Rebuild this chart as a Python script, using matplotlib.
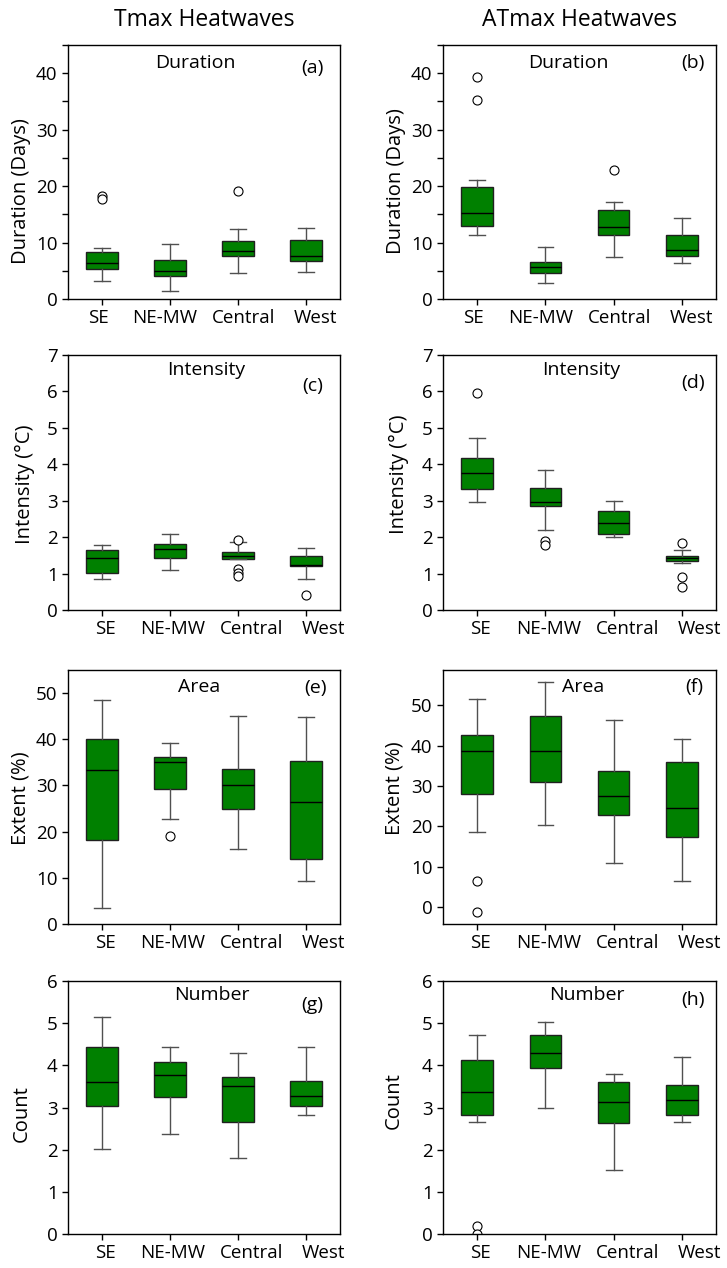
import matplotlib
matplotlib.use("Agg")
import matplotlib.pyplot as plt
import matplotlib.transforms as mtransforms
from matplotlib.ticker import MultipleLocator

plt.rcParams['font.family'] = ['Open Sans', 'DejaVu Sans']

regions = ["SE", "NE-MW", "Central", "West"]

# box summaries per region: [whisker low, q1, median, q3, whisker high]
tmax_duration = [[3.2, 5.4, 6.3, 8.3, 9.1],
                 [1.4, 4.1, 4.9, 6.9, 9.8],
                 [4.6, 7.7, 8.5, 10.3, 12.4],
                 [4.7, 6.7, 7.6, 10.4, 12.5]]
tmax_duration_out = [[18.3, 17.7], [], [19.1], []]

atmax_duration = [[11.4, 13.0, 15.3, 19.8, 21.1],
                  [2.8, 4.6, 5.7, 6.5, 9.3],
                  [7.4, 11.3, 12.7, 15.7, 17.1],
                  [6.3, 7.6, 8.7, 11.4, 14.3]]
atmax_duration_out = [[39.3, 35.3], [], [22.8], []]

tmax_intensity = [[0.85, 1.02, 1.42, 1.65, 1.79],
                  [1.11, 1.44, 1.67, 1.82, 2.10],
                  [1.41, 1.41, 1.47, 1.59, 1.86],
                  [0.85, 1.22, 1.24, 1.47, 1.70]]
tmax_intensity_out = [[], [], [1.92, 1.13, 1.03, 0.93], [0.41]]

atmax_intensity = [[2.96, 3.31, 3.77, 4.16, 4.71],
                   [2.21, 2.85, 2.97, 3.36, 3.84],
                   [2.01, 2.10, 2.38, 2.72, 2.99],
                   [1.30, 1.34, 1.42, 1.49, 1.66]]
atmax_intensity_out = [[5.95], [1.89, 1.78], [], [1.83, 0.91, 0.62]]

tmax_area = [[3.5, 18.2, 33.3, 40.0, 48.6],
             [22.7, 29.3, 35.1, 36.1, 39.2],
             [16.2, 25.0, 30.2, 33.5, 45.0],
             [9.4, 14.1, 26.4, 35.3, 44.9]]
tmax_area_out = [[], [19.0], [], []]

atmax_area = [[18.5, 28.1, 38.7, 42.5, 51.6],
              [20.2, 31.0, 38.7, 47.3, 55.8],
              [10.9, 22.9, 27.6, 33.7, 46.2],
              [6.5, 17.4, 24.5, 35.8, 41.6]]
atmax_area_out = [[6.4, -1.3], [], [], []]

tmax_number = [[2.02, 3.04, 3.61, 4.43, 5.14],
               [2.37, 3.25, 3.76, 4.07, 4.44],
               [1.81, 2.65, 3.50, 3.73, 4.30],
               [2.82, 3.03, 3.27, 3.62, 4.43]]
tmax_number_out = [[], [], [], []]

atmax_number = [[2.65, 2.83, 3.38, 4.13, 4.72],
                [2.99, 3.94, 4.30, 4.73, 5.02],
                [1.52, 2.64, 3.12, 3.61, 3.80],
                [2.65, 2.83, 3.19, 3.53, 4.20]]
atmax_number_out = [[0.19, 0.01], [], [], []]


def box_stats(summary, outliers):
    stats = []
    for (lo, q1, med, q3, hi), out in zip(summary, outliers):
        stats.append(dict(whislo=lo, q1=q1, med=med, q3=q3, whishi=hi, fliers=out))
    return stats


fig = plt.figure(figsize=(7.27, 12.68), dpi=100)

col_left = [0.0935, 0.6094]
col_width = [0.374, 0.3755]
row_bottom = [0.7642, 0.5189, 0.2713, 0.0268]
row_height = [0.2003, 0.2011, 0.2003, 0.1995]

# (summary, outliers, row, col, title, letter, ylabel, ylim, ystep, minor, title xy, letter xy, ylabel xy)
panels = [
    (tmax_duration, tmax_duration_out, 0, 0, "Duration", "(a)", "Duration (Days)",
     (0, 45), 10, 5, (0.467, 0.93), (0.90, 0.91), (-0.173, 0.425)),
    (atmax_duration, atmax_duration_out, 0, 1, "Duration", "(b)", "Duration (Days)",
     (0, 45), 10, 5, (0.46, 0.93), (0.916, 0.93), (-0.172, 0.465)),
    (tmax_intensity, tmax_intensity_out, 1, 0, "Intensity", "(c)", "Intensity (\u00b0C)",
     (0, 7), 1, None, (0.51, 0.94), (0.90, 0.88), (-0.158, 0.494)),
    (atmax_intensity, atmax_intensity_out, 1, 1, "Intensity", "(d)", "Intensity (\u00b0C)",
     (0, 7), 1, None, (0.505, 0.94), (0.916, 0.89), (-0.161, 0.533)),
    (tmax_area, tmax_area_out, 2, 0, "Area", "(e)", "Extent (%)",
     (0, 55), 10, None, (0.482, 0.933), (0.91, 0.93), (-0.176, 0.496)),
    (atmax_area, atmax_area_out, 2, 1, "Area", "(f)", "Extent (%)",
     (-4.2, 58.7), 10, None, (0.513, 0.935), (0.92, 0.935), (-0.179, 0.535)),
    (tmax_number, tmax_number_out, 3, 0, "Number", "(g)", "Count",
     (0, 6), 1, None, (0.53, 0.945), (0.90, 0.905), (-0.169, 0.478)),
    (atmax_number, atmax_number_out, 3, 1, "Number", "(h)", "Count",
     (0, 6), 1, None, (0.527, 0.945), (0.915, 0.925), (-0.179, 0.526)),
]

# horizontal nudges of the region labels (pixels)
label_shift = {0: [-4, -5, 6, 10], 1: [3, 3, 14, 18], 2: [3, 3, 14, 18], 3: [3, 3, 14, 18]}

green = "#008000"
for summary, outliers, row, col, title, letter, ylab, ylim, ystep, minor, txy, lxy, yl in panels:
    ax = fig.add_axes([col_left[col], row_bottom[row], col_width[col], row_height[row]])
    ax.bxp(box_stats(summary, outliers), positions=[1, 2, 3, 4], widths=0.46,
           patch_artist=True, showfliers=True,
           boxprops=dict(facecolor=green, edgecolor="#202020", linewidth=1.0),
           medianprops=dict(color="black", linewidth=1.0),
           whiskerprops=dict(color="#505050", linewidth=1.0),
           capprops=dict(color="#505050", linewidth=1.0),
           flierprops=dict(marker="o", markersize=6.5, markerfacecolor="white",
                           markeredgecolor="black", markeredgewidth=0.8))
    ax.set_xlim(0.5, 4.5)
    ax.set_ylim(*ylim)
    ax.yaxis.set_major_locator(MultipleLocator(ystep))
    if minor:
        ax.yaxis.set_minor_locator(MultipleLocator(minor))
    ax.set_xticks([1, 2, 3, 4])
    ax.set_xticklabels(regions)
    ax.tick_params(axis="both", which="both", direction="out", length=4, width=1.0,
                   labelsize=13.5, top=False, right=False)
    ax.tick_params(axis="both", which="minor", labelleft=False)
    for lab, dx in zip(ax.get_xticklabels(), label_shift[row]):
        off = mtransforms.ScaledTranslation(dx / 100.0, 0, fig.dpi_scale_trans)
        lab.set_transform(lab.get_transform() + off)
    for sp in ax.spines.values():
        sp.set_linewidth(1.0)
    ax.text(txy[0], txy[1], title, transform=ax.transAxes, ha="center", va="center", fontsize=14)
    ax.text(lxy[0], lxy[1], letter, transform=ax.transAxes, ha="center", va="center", fontsize=14)
    ax.set_ylabel(ylab, fontsize=14.5, va="center")
    ax.yaxis.set_label_coords(yl[0], yl[1])
    if row == 0:
        ax.set_title(["Tmax Heatwaves", "ATmax Heatwaves"][col], fontsize=16.5, pad=14)

fig.savefig("out.png", dpi=100)
